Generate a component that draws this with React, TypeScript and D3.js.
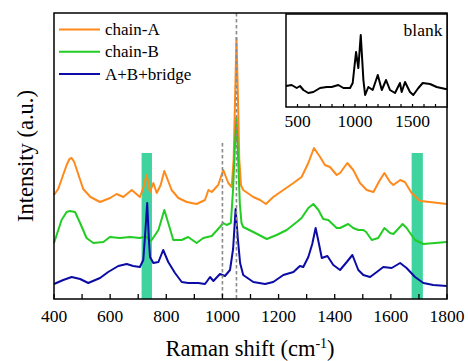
import React from "react";
import * as d3 from "d3";

// Raman shift (cm-1) and intensity (a.u., stacked offsets as plotted)
const chainA: [number, number][] = [
  [400, 104], [415, 110], [430, 122], [445, 134], [455, 140], [463, 141], [472, 137], [485, 126], [504, 110], [530, 102], [564, 97],
  [600, 101], [623, 105], [647, 102], [677, 109], [706, 102], [718, 111], [730, 124], [742, 107],
  [754, 116], [766, 106], [780, 114], [793, 128], [819, 109], [843, 101], [873, 97], [908, 95],
  [938, 99], [950, 109], [962, 107], [985, 114], [1003, 129], [1021, 116], [1033, 112], [1040, 140],
  [1045, 200], [1050, 261], [1055, 205], [1060, 140], [1066, 114], [1074, 109], [1110, 102],
  [1134, 99], [1155, 95], [1181, 102], [1217, 109], [1253, 116], [1282, 122], [1306, 136],
  [1326, 151], [1348, 142], [1365, 134], [1383, 132], [1407, 124], [1419, 126], [1445, 136],
  [1466, 129], [1490, 116], [1514, 109], [1538, 107], [1561, 119], [1577, 126], [1597, 117],
  [1609, 114], [1633, 119], [1650, 117], [1674, 106], [1704, 98], [1739, 97], [1799, 95],
];

const chainB: [number, number][] = [
  [400, 56], [427, 79], [445, 87], [457, 88], [475, 87], [493, 76], [516, 61], [540, 56], [576, 57],
  [599, 62], [635, 61], [671, 62], [706, 61], [718, 62], [730, 62], [742, 58], [748, 59],
  [772, 69], [793, 89], [807, 76], [825, 59], [855, 59], [878, 62], [908, 56], [932, 61],
  [962, 63], [991, 72], [1003, 76], [1015, 74], [1030, 76], [1038, 110], [1044, 150], [1050, 181],
  [1056, 140], [1062, 95], [1068, 76], [1074, 72], [1110, 67], [1158, 60], [1193, 64],
  [1229, 69], [1265, 77], [1282, 81], [1306, 91], [1324, 95], [1342, 89], [1359, 80], [1377, 79],
  [1407, 71], [1419, 71], [1448, 75], [1466, 71], [1484, 69], [1502, 69], [1512, 67], [1532, 59],
  [1555, 61], [1577, 71], [1597, 66], [1609, 65], [1642, 75], [1656, 71], [1686, 59], [1716, 55],
  [1799, 57],
];

const bridge: [number, number][] = [
  [400, 15], [433, 19], [463, 22], [493, 20], [522, 16], [564, 21], [593, 27], [629, 33],
  [659, 35], [682, 33], [706, 32], [718, 39], [726, 70], [732, 96], [738, 60], [742, 42],
  [754, 36], [772, 37], [789, 49], [807, 37], [831, 26], [855, 17], [878, 16], [914, 16],
  [938, 15], [956, 22], [968, 18], [991, 25], [1009, 23], [1027, 29], [1038, 50], [1047, 90],
  [1055, 60], [1063, 36], [1074, 24], [1110, 17], [1152, 15], [1181, 17], [1217, 24], [1253, 27],
  [1276, 33], [1288, 32], [1306, 42], [1320, 55], [1332, 71], [1344, 55], [1354, 41], [1374, 43],
  [1395, 34], [1419, 29], [1443, 37], [1463, 44], [1484, 29], [1502, 24], [1526, 22], [1550, 27],
  [1573, 32], [1603, 31], [1633, 36], [1656, 31], [1686, 22], [1716, 16], [1751, 14], [1799, 13],
];

const blank: [number, number][] = [
  [400, 21], [449, 22], [493, 19], [522, 21], [551, 17], [594, 14], [638, 15], [696, 19],
  [754, 20], [797, 20], [855, 22], [899, 19], [957, 19], [980, 24], [1009, 55], [1029, 39],
  [1050, 72], [1073, 27], [1088, 12], [1116, 20], [1154, 17], [1198, 32], [1233, 17], [1270, 27],
  [1304, 17], [1348, 14], [1391, 24], [1406, 15], [1435, 25], [1478, 15], [1507, 12], [1551, 19],
  [1589, 24], [1652, 23], [1710, 20], [1788, 18], [1800, 18],
];

const seriesNames = ["chain-A", "chain-B", "A+B+bridge"];
const seriesColors = ["#ff8a1c", "#22cc22", "#0b0ba6"];
const xTicksMajor = [400, 600, 800, 1000, 1200, 1400, 1600, 1800];
const xTicksMinor = d3.range(400, 1801, 100);
const insetTicksMajor = [500, 1000, 1500];
const insetTicksMinor = d3.range(500, 1800, 100);
const dashedLines = [
  { x: 1000, top: 156 },
  { x: 1050, top: 286 },
];
const highlightBands: [number, number][] = [
  [712, 749],
  [1674, 1714],
];
const bandTop = 146;

const FONT = 'Tinos, "Liberation Serif", "Noto Serif", "DejaVu Serif", FreeSerif, "Nimbus Roman", "Times New Roman", Times, serif';
const tstyle = { fontFamily: FONT };

export default function App() {
  const W = 468, H = 361;
  const L = 54, R = 447, T = 13, B = 299;
  const x = d3.scaleLinear().domain([400, 1800]).range([L, R]);
  const y = d3.scaleLinear().domain([0, 286]).range([B, T]);
  const line = d3
    .line<[number, number]>()
    .x((d) => x(d[0]))
    .y((d) => y(d[1]));

  const iL = 286, iR = 447, iT = 14, iB = 107;
  const ix = d3.scaleLinear().domain([400, 1800]).range([iL, iR]);
  const iy = d3.scaleLinear().domain([0, 93]).range([iB, iT]);
  const iline = d3
    .line<[number, number]>()
    .x((d) => ix(d[0]))
    .y((d) => iy(d[1]));

  const data = [chainA, chainB, bridge];

  return (
    <svg
      width={W}
      height={H}
      style={{ position: "absolute", left: 0, top: 0, background: "#fff", fontFamily: FONT }}
    >
      <rect x={0} y={0} width={W} height={H} fill="#fff" />
      {highlightBands.map(([a, b], i) => (
        <rect key={i} x={x(a)} y={y(bandTop)} width={x(b) - x(a)} height={B - y(bandTop)} fill="#3fd49f" />
      ))}
      {data.map((d, i) => (
        <path key={i} d={line(d) || ""} fill="none" stroke={seriesColors[i]} strokeWidth={2} strokeLinejoin="round" />
      ))}
      {dashedLines.map((dl, i) => (
        <line
          key={i}
          x1={x(dl.x)}
          x2={x(dl.x)}
          y1={y(dl.top)}
          y2={B}
          stroke="#8a8a8a"
          strokeWidth={1.6}
          strokeDasharray="3.5,2.5"
        />
      ))}
      {/* main frame */}
      <rect x={L} y={T} width={R - L} height={B - T} fill="none" stroke="#000" strokeWidth={1.5} />
      {xTicksMinor.map((t) => (
        <line key={t} x1={x(t)} x2={x(t)} y1={B} y2={B - 5} stroke="#000" strokeWidth={1.3} />
      ))}
      {xTicksMajor.map((t) => (
        <text key={t} x={x(t)} y={321.5} fontSize={17.5} textAnchor="middle" fill="#000" style={tstyle}>
          {t}
        </text>
      ))}
      <text x={250} y={356} fontSize={22.5} textAnchor="middle" fill="#000" style={tstyle}>
        Raman shift (cm
        <tspan dy={-8} fontSize={14}>-1</tspan>
        <tspan dy={8}>)</tspan>
      </text>
      <text
        transform={`translate(33, ${(T + B) / 2}) rotate(-90)`}
        fontSize={22.5}
        textAnchor="middle"
        fill="#000"
        style={tstyle}
      >
        Intensity (a.u.)
      </text>
      {/* legend */}
      {seriesNames.map((n, i) => (
        <g key={n}>
          <line x1={59} x2={100} y1={29.5 + i * 22.3} y2={29.5 + i * 22.3} stroke={seriesColors[i]} strokeWidth={2} />
          <text x={105} y={35 + i * 22.3} fontSize={17} fill="#000" style={tstyle}>
            {n}
          </text>
        </g>
      ))}
      {/* inset */}
      <rect x={iL} y={iT} width={iR - iL} height={iB - iT} fill="#fff" stroke="#000" strokeWidth={1.5} />
      <path d={iline(blank) || ""} fill="none" stroke="#000" strokeWidth={2} strokeLinejoin="round" />
      {insetTicksMinor.map((t) => (
        <line key={t} x1={ix(t)} x2={ix(t)} y1={iB} y2={iB - 3} stroke="#000" strokeWidth={1.2} />
      ))}
      {insetTicksMajor.map((t) => (
        <text key={t} x={ix(t)} y={126.5} fontSize={17.5} textAnchor="middle" fill="#000" style={tstyle}>
          {t}
        </text>
      ))}
      <text x={442.5} y={36} fontSize={17.5} textAnchor="end" fill="#000" style={tstyle}>
        blank
      </text>
    </svg>
  );
}
